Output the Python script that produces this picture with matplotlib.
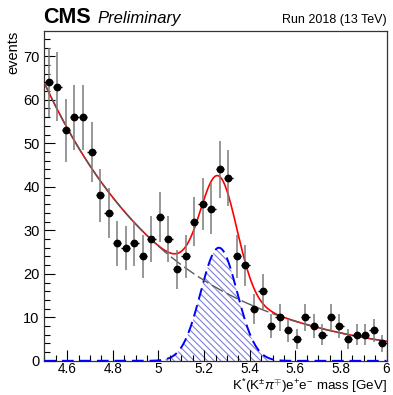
import numpy as np
import matplotlib
matplotlib.use("Agg")
from matplotlib import pyplot as plt
from matplotlib.ticker import MultipleLocator

plt.rcParams['font.family'] = ['Liberation Sans', 'DejaVu Sans']
plt.rcParams['mathtext.fontset'] = 'custom'
plt.rcParams['mathtext.rm'] = 'Liberation Sans'
plt.rcParams['mathtext.it'] = 'Liberation Sans:italic'
plt.rcParams['mathtext.sf'] = 'Liberation Sans'
plt.rcParams['hatch.linewidth'] = 0.8

# binned data: 40 bins between 4.5 and 6.0 GeV
x_lo, x_hi, n_bins = 4.5, 6.0, 40
counts = [64, 63, 53, 56, 56, 48, 38, 34, 27, 26,
          27, 24, 28, 33, 28, 21, 24, 32, 36, 35,
          44, 42, 24, 22, 12, 16, 8, 10, 7, 5,
          10, 8, 6, 10, 8, 5, 6, 6, 7, 4]

# fit components
bkg_norm, bkg_slope = 63.8, -1.77      # exponential background
sig_amp, sig_mean, sig_sigma = 26.0, 5.265, 0.080   # signal peak

edges = np.linspace(x_lo, x_hi, n_bins + 1)
centers = 0.5 * (edges[:-1] + edges[1:])
half_w = 0.5 * (edges[1] - edges[0])
counts = np.array(counts, dtype=float)
errs = np.sqrt(counts)

xs = np.linspace(x_lo, x_hi, 600)
bkg = bkg_norm * np.exp(bkg_slope * (xs - x_lo))
sig = sig_amp * np.exp(-0.5 * ((xs - sig_mean) / sig_sigma) ** 2)
total = bkg + sig

fig = plt.figure(figsize=(3.93, 3.95), dpi=100)
ax = fig.add_axes([0.1132, 0.0865, 0.8703, 0.835])

ax.fill_between(xs, 0, sig, where=sig > 0.05, facecolor='none',
                edgecolor='#8080d8', hatch='\\\\\\\\\\', linewidth=0)
ax.plot(xs, sig, color='blue', lw=1.4, ls=(0, (6, 3)), clip_on=False, zorder=3)
ax.plot(xs, total, color='red', lw=1.2, zorder=4)
ax.plot(xs, bkg, color='#5a5a5a', lw=1.0, ls=(0, (9, 3)), zorder=5)

ax.errorbar(centers, counts, yerr=errs, fmt='none', ecolor='#7a7a7a',
            elinewidth=1.1, zorder=6)
ax.errorbar(centers, counts, xerr=half_w, fmt='o', color='black',
            ecolor='black', elinewidth=1.0, markersize=4.6, zorder=7)

ax.set_xlim(x_lo, x_hi)
ax.set_ylim(0, 75.8)
ax.xaxis.set_major_locator(MultipleLocator(0.2))
ax.xaxis.set_minor_locator(MultipleLocator(0.05))
ax.yaxis.set_major_locator(MultipleLocator(10))
ax.yaxis.set_minor_locator(MultipleLocator(2))
ax.tick_params(which='both', direction='in', labelsize=10.5, width=0.8)
ax.tick_params(which='major', length=8)
ax.tick_params(which='minor', length=4)
ax.tick_params(axis='x', pad=0.5, labelsize=9.8)
ax.set_xticks([4.6, 4.8, 5.0, 5.2, 5.4, 5.6, 5.8, 6.0])
ax.set_xticklabels(['4.6', '4.8', '5', '5.2', '5.4', '5.6', '5.8', '6'])
for sp in ax.spines.values():
    sp.set_linewidth(0.9)
    sp.set_color('#333333')

# axis titles placed by hand, ROOT style
fig.text(0.9835, 0.0, r'K$^{*}$(K$^{\pm}\pi^{\mp}$)e$^{+}$e$^{-}$ mass [GeV]',
         fontsize=9.6, ha='right', va='bottom')
ax.set_ylabel('events', fontsize=10.5, loc='top', labelpad=2)

fig.text(0.109, 0.943, 'CMS', fontsize=15.5, fontweight='bold', ha='left', va='baseline')
fig.text(0.247, 0.943, 'Preliminary', fontsize=12, style='italic', ha='left', va='baseline')
fig.text(0.984, 0.943, 'Run 2018 (13 TeV)', fontsize=9, ha='right', va='baseline')

fig.savefig('out.png', dpi=100)
